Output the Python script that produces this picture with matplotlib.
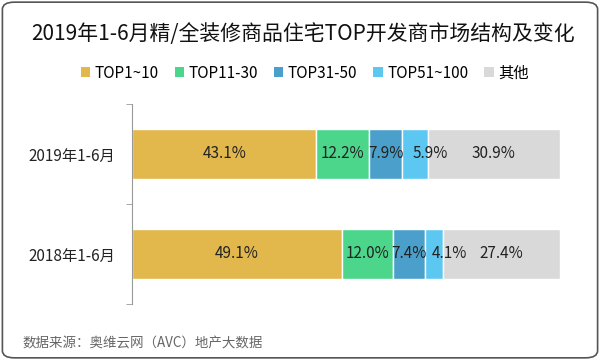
import matplotlib
matplotlib.use("Agg")
import matplotlib.pyplot as plt
from matplotlib.patches import FancyBboxPatch, Patch
import numpy as np

plt.rcParams['font.family'] = ['Noto Sans CJK SC', 'DejaVu Sans']

categories = ["2018年1-6月", "2019年1-6月"]
series_names = ["TOP1~10", "TOP11-30", "TOP31-50", "TOP51~100", "其他"]
values = {
    "TOP1~10": [49.1, 43.1],
    "TOP11-30": [12.0, 12.2],
    "TOP31-50": [7.4, 7.9],
    "TOP51~100": [4.1, 5.9],
    "其他": [27.4, 30.9],
}
colors = ["#E2B84C", "#4CD68C", "#4BA0CB", "#5CC8F2", "#D9D9D9"]

title = "2019年1-6月精/全装修商品住宅TOP开发商市场结构及变化"
source = "数据来源：奥维云网（AVC）地产大数据"

fig = plt.figure(figsize=(6, 3.6), dpi=100)
fig.patch.set_facecolor("white")

# frame
frame = FancyBboxPatch((0.004, 0.006), 0.992, 0.988, boxstyle="round,pad=0,rounding_size=0.02",
                       transform=fig.transFigure, facecolor="white", edgecolor="#555555",
                       linewidth=1.2, zorder=-10)
fig.patches.append(frame)

ax = fig.add_axes([0.22, 0.1556, 0.7133, 0.5556])
y = np.arange(len(categories))
left = np.zeros(len(categories))
for name, c in zip(series_names, colors):
    v = np.array(values[name])
    ax.barh(y, v, left=left, height=0.5, color=c, edgecolor="white", linewidth=1)
    for yi, (l, w) in enumerate(zip(left, v)):
        # narrow segments: nudge label right so it does not collide with its neighbour
        dx = 11 if w < 7 else 0
        ax.annotate(f"{w:.1f}%", (l + w / 2, yi), xytext=(dx, 0), textcoords="offset points",
                    ha="center", va="center", fontsize=11, color="#222222")
    left = left + v

ax.set_xlim(0, 100)
ax.set_ylim(-0.5, 1.5)
ax.set_yticks(y)
ax.set_yticklabels(categories, fontsize=11, color="#222222")
ax.tick_params(axis="y", which="major", length=0, pad=12)
ax.set_yticks([-0.5, 0.5, 1.5], minor=True)
ax.tick_params(axis="y", which="minor", length=4, color="#999999", direction="out")
ax.set_xticks([])
for s in ["top", "right", "bottom"]:
    ax.spines[s].set_visible(False)
ax.spines["left"].set_color("#999999")
ax.spines["left"].set_linewidth(0.8)

fig.text(0.505, 0.905, title, ha="center", va="center", fontsize=15, color="#111111")

handles = [Patch(facecolor=c, edgecolor="none") for c in colors]
fig.legend(handles, series_names, loc="center", bbox_to_anchor=(0.508, 0.797), ncol=5,
           frameon=False, fontsize=11, handlelength=0.6, handleheight=0.6,
           handletextpad=0.3, columnspacing=1.05)

fig.text(0.038, 0.047, source, ha="left", va="center", fontsize=9.7, color="#666666")

fig.savefig("out.png", dpi=100)
